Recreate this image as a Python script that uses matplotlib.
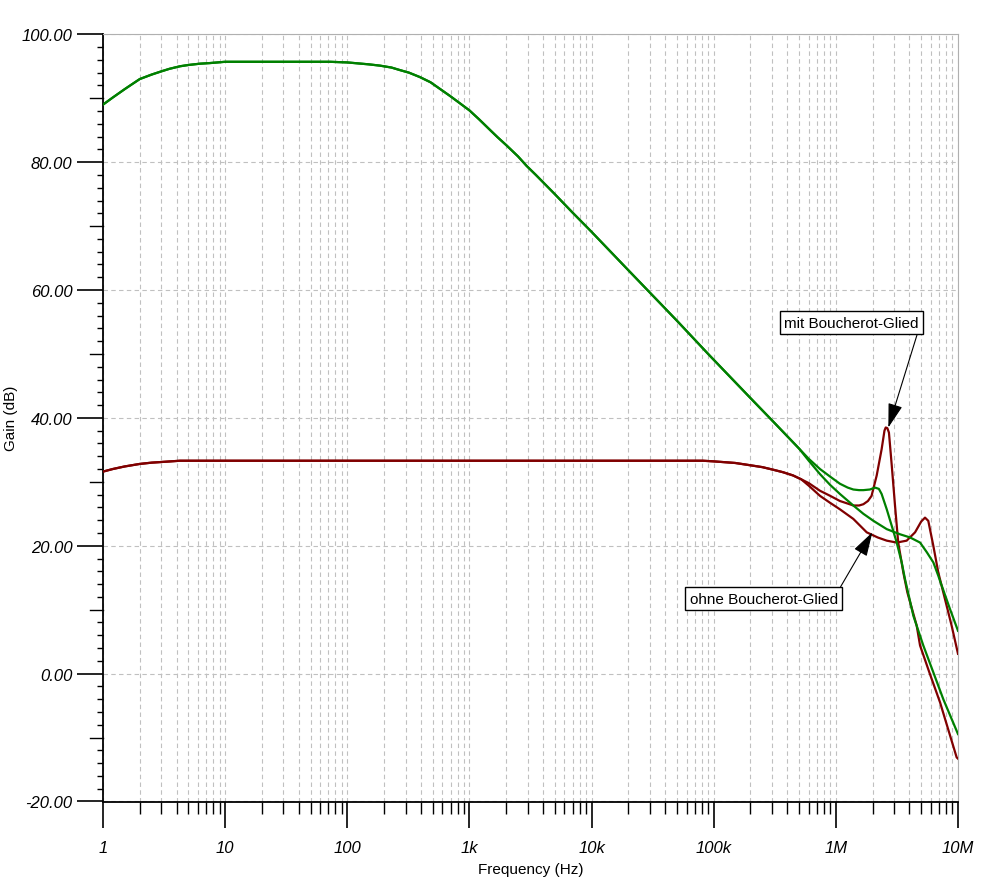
import numpy as np
import matplotlib
matplotlib.use("Agg")
import matplotlib.pyplot as plt
from matplotlib.ticker import FixedLocator, NullFormatter

plt.rcParams['font.family'] = ['Liberation Sans', 'DejaVu Sans']

# ---- data ----
# common part of the two green curves (open-loop gain)
f_green_common = [1, 1.2, 1.5, 1.7, 2, 2.5, 3, 3.5, 4.27, 5, 6.2, 7.5, 10, 20, 50, 72, 100, 150, 185,
                  230, 270, 320, 394, 480, 600, 700, 837, 1000, 1200, 1500, 1700, 2019, 2500, 2944,
                  3500, 5000, 7000, 10000, 20000, 50000, 93200, 200000, 330000, 500000]
g_green_common = [89.0, 90.1, 91.4, 92.1, 93.0, 93.7, 94.2, 94.6, 95.0, 95.2, 95.4, 95.5, 95.7, 95.7,
                  95.7, 95.7, 95.6, 95.3, 95.1, 94.8, 94.4, 94.0, 93.3, 92.5, 91.2, 90.3, 89.2, 88.1,
                  86.7, 84.9, 83.9, 82.6, 80.9, 79.4, 78.0, 75.0, 72.1, 69.1, 63.1, 55.2, 49.7, 43.1,
                  38.8, 35.2]

f_green_mit = [600e3, 742e3, 900e3, 1.08e6, 1.25e6, 1.39e6, 1.55e6, 1.68e6, 1.9e6, 2.09e6, 2.25e6, 2.37e6,
               2.61e6, 2.87e6, 3.15e6, 3.46e6, 3.68e6, 4.31e6, 5.2e6, 6.28e6, 7.58e6, 10e6]
g_green_mit = [33.6, 32.0, 30.8, 29.7, 29.1, 28.8, 28.7, 28.7, 28.8, 29.1, 28.9, 28.1, 25.7, 23.1,
               20.5, 17.4, 14.8, 9.05, 4.4, 0.2, -4.0, -9.45]

f_green_ohne = [600e3, 742e3, 900e3, 1.08e6, 1.39e6, 1.68e6, 2.03e6, 2.61e6, 3.35e6, 4.05e6, 4.89e6,
                5.55e6, 6.28e6, 6.9e6, 7.13e6, 8.6e6, 10e6]
g_green_ohne = [33.3, 31.2, 29.5, 28.1, 26.3, 25.0, 23.9, 22.6, 21.8, 21.3, 20.5,
                19.0, 17.4, 15.3, 14.5, 10.1, 6.7]

# common part of the two red curves (closed-loop gain)
f_red_common = [1, 1.2, 1.5, 2, 2.5, 3, 4.27, 10, 100, 1000, 10000, 50000, 81700, 100000, 150000,
                198000, 250000, 306000, 370000, 446000, 520000]
g_red_common = [31.6, 32.0, 32.4, 32.8, 33.0, 33.1, 33.3, 33.3, 33.3, 33.3, 33.3, 33.3, 33.3, 33.2,
                32.95, 32.6, 32.3, 31.9, 31.5, 31.0, 30.4]

f_red_mit = [600e3, 742e3, 900e3, 1.08e6, 1.25e6, 1.39e6, 1.55e6, 1.68e6, 1.83e6, 1.96e6, 2.16e6, 2.37e6,
             2.5e6, 2.56e6, 2.64e6, 2.72e6, 2.87e6, 3.05e6, 3.24e6, 3.57e6, 3.85e6, 4.59e6, 4.89e6,
             5.9e6, 7.13e6, 9.75e6, 10e6]
g_red_mit = [29.8, 28.6, 27.8, 27.0, 26.6, 26.3, 26.3, 26.5, 27.0, 27.8, 31.0, 35.1, 38.0, 38.5,
             38.4, 37.7, 32.5, 26.3, 20.5, 15.8, 12.7, 7.5, 4.4, -0.1, -4.5, -13.1, -13.3]

f_red_ohne = [600e3, 742e3, 900e3, 1.08e6, 1.39e6, 1.79e6, 2.2e6, 2.61e6, 3.15e6, 3.8e6, 4.45e6,
              5.0e6, 5.37e6, 5.71e6, 6.28e6, 6.9e6, 7.58e6, 8.87e6, 10e6]
g_red_ohne = [29.4, 27.8, 26.7, 25.7, 24.2, 22.1, 21.3, 20.8, 20.5, 20.8, 22.1, 23.8, 24.4,
              23.9, 20.0, 15.8, 12.7, 7.5, 3.1]

y_ticks = [-20, 0, 20, 40, 60, 80, 100]
y_labels = ['-20.00', '0.00', '20.00', '40.00', '60.00', '80.00', '100.00']
x_ticks = [1, 10, 100, 1e3, 1e4, 1e5, 1e6, 1e7]
x_labels = ['1', '10', '100', '1k', '10k', '100k', '1M', '10M']

GREEN = '#008000'
RED = '#800000'

W, H = 983, 878
fig = plt.figure(figsize=(W / 100, H / 100), dpi=100)
ax_left, ax_right, ax_top, ax_bot = 103, 958, 35.3, 802.5
ax = fig.add_axes([ax_left / W, 1 - ax_bot / H, (ax_right - ax_left) / W, (ax_bot - ax_top) / H])

ax.set_xscale('log')
ax.set_xlim(1, 1e7)
ax.set_ylim(-20, 100)

for fc, gc, f2, g2, col in [
    (f_red_common, g_red_common, f_red_ohne, g_red_ohne, RED),
    (f_red_common, g_red_common, f_red_mit, g_red_mit, RED),
    (f_green_common, g_green_common, f_green_ohne, g_green_ohne, GREEN),
    (f_green_common, g_green_common, f_green_mit, g_green_mit, GREEN),
]:
    ax.plot(list(fc) + list(f2), list(gc) + list(g2), color=col, lw=1.6, zorder=3,
            solid_joinstyle='round')

# ticks / grid
minor_x = [m * 10**e for e in range(0, 7) for m in range(2, 10)]
ax.xaxis.set_major_locator(FixedLocator(x_ticks))
ax.xaxis.set_minor_locator(FixedLocator(minor_x))
ax.set_xticklabels(x_labels)
ax.xaxis.set_minor_formatter(NullFormatter())
ax.yaxis.set_major_locator(FixedLocator(y_ticks))
ax.set_yticklabels(y_labels)
ax.yaxis.set_minor_locator(FixedLocator([v for v in range(-18, 100, 2) if v % 10 != 0]))

ax.grid(True, which='major', axis='both', color='#c0c0c0', ls=(0, (4, 3)), lw=0.8)
ax.grid(True, which='minor', axis='x', color='#c0c0c0', ls=(0, (4, 3)), lw=0.8)
ax.grid(False, which='minor', axis='y')

ax.tick_params(axis='both', which='major', direction='out', length=19, width=1.2,
               labelsize=12, color='black')
ax.tick_params(axis='x', which='major', pad=9)
ax.tick_params(axis='y', which='major', pad=3)
ax.tick_params(axis='x', which='minor', direction='out', length=8.6, width=1.0, color='black')
ax.tick_params(axis='y', which='minor', direction='out', length=4.3, width=1.0, color='black')
for lab in ax.get_xticklabels() + ax.get_yticklabels():
    lab.set_fontstyle('italic')

# medium-length ticks at odd multiples of 10 dB
ytr = ax.get_yaxis_transform()
mid_len = 13 / (ax_right - ax_left)
for v in [-10, 10, 30, 50, 70, 90]:
    ax.plot([-mid_len, 0], [v, v], transform=ytr, color='black', lw=1.0, clip_on=False)

ax.spines['left'].set_color('black')
ax.spines['bottom'].set_color('black')
ax.spines['left'].set_linewidth(1.3)
ax.spines['bottom'].set_linewidth(1.3)
ax.spines['top'].set_color('#b0b0b0')
ax.spines['right'].set_color('#b0b0b0')

ax.set_xlabel('Frequency (Hz)', fontsize=11, labelpad=5)
fig.text(11 / W, 1 - 418 / H, 'Gain (dB)', rotation=90, ha='center', va='center', fontsize=11)

arrow_kw = dict(arrowstyle='-|>,head_length=1.5,head_width=0.45', mutation_scale=10,
                color='black', lw=0.8, shrinkA=0, shrinkB=0)
bbox_kw = dict(boxstyle='square,pad=0.3', fc='white', ec='black', lw=1.0)

ax.annotate('mit Boucherot-Glied', xy=(2.69e6, 38.5), xytext=(1.34e6, 54.9),
            textcoords='data', ha='center', va='center', fontsize=11, bbox=bbox_kw,
            arrowprops=dict(relpos=(1, 0), **arrow_kw), zorder=5)
ax.annotate('ohne Boucherot-Glied', xy=(1.99e6, 22.1), xytext=(2.56e5, 11.7),
            textcoords='data', ha='center', va='center', fontsize=11, bbox=bbox_kw,
            arrowprops=dict(relpos=(1, 1), **arrow_kw), zorder=5)

fig.savefig('out.png', dpi=100)
